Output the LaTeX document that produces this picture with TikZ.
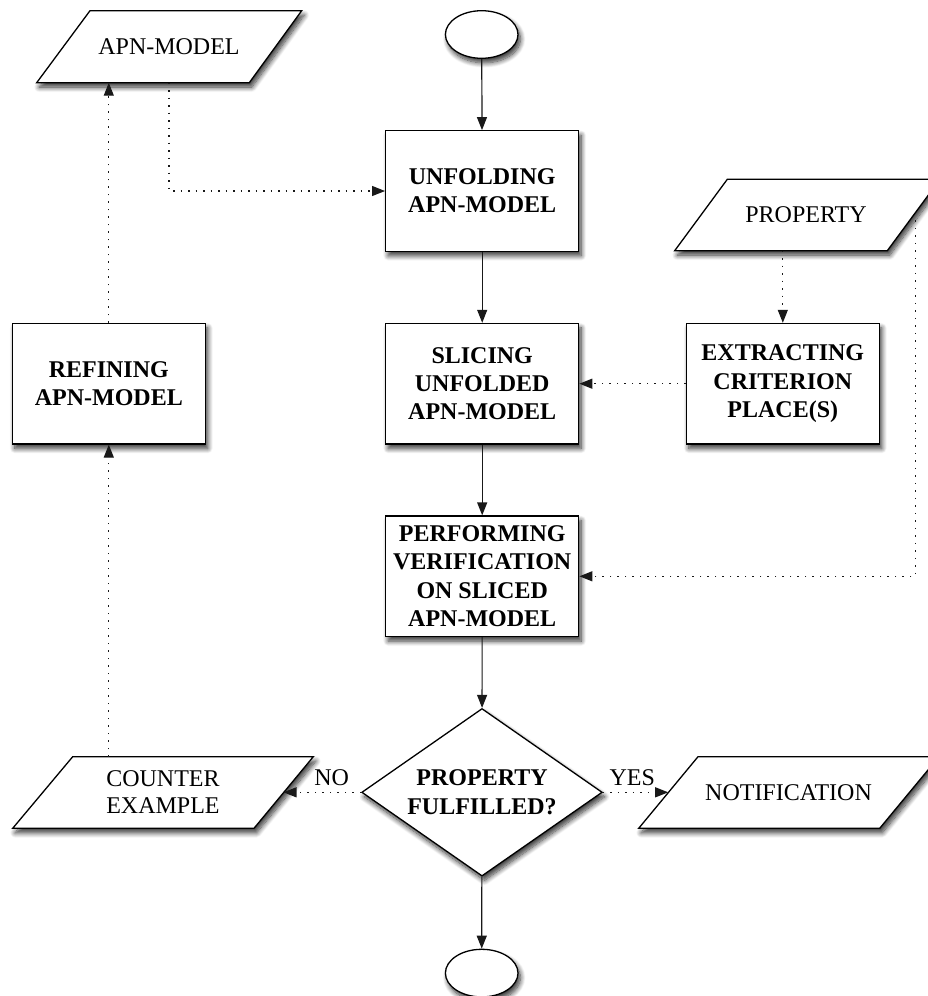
\documentclass[tikz,border=0pt]{standalone}
\usepackage{fontspec}
\setmainfont{Liberation Serif}
\usetikzlibrary{arrows.meta,shapes.geometric,shadows.blur}

\begin{document}
\begin{tikzpicture}[x=1pt,y=-1pt,
  softshadow/.style={blur shadow={shadow xshift=2.5pt,shadow yshift=-4.5pt,shadow blur radius=5pt,shadow blur steps=10,shadow opacity=80}},
  outline/.style={draw=black,line width=1.3pt,fill=white,softshadow},
  procbox/.style={outline,rectangle,minimum width=193pt,minimum height=120.5pt,inner sep=0pt,
    align=center,font=\fontsize{24}{28.3}\selectfont\bfseries},
  terminal/.style={outline,ellipse,minimum width=72.6pt,minimum height=47.6pt,inner sep=0pt},
  decision/.style={outline,diamond,aspect=1.435,minimum width=240.6pt,minimum height=167.6pt,inner sep=0pt,
    align=center,font=\fontsize{24}{28.3}\selectfont\bfseries},
  datashape/.style={outline,line join=miter},
  datatext/.style={align=center,inner sep=0pt,font=\fontsize{24}{27.4}\selectfont},
  edgelabel/.style={inner sep=0pt,font=\fontsize{24}{28}\selectfont},
  flow/.style={draw=black!90,line width=1.2pt,-{Triangle[length=13pt,width=10pt]}},
  dataflow/.style={flow,dash pattern=on 1.5pt off 6pt},
]
\path[use as bounding box,clip] (0,0) rectangle (928,996);

% data (input/output) shapes
\draw[datashape] (90,10.7) -- (301.7,10.7) -- (249.3,82.7) -- (36.7,82.7) -- cycle;
\node[datatext] (apn) at (169,46.7) {APN-MODEL};
\draw[datashape] (727.3,179.3) -- (940,179.3) -- (887.3,250.7) -- (674.7,250.7) -- cycle;
\node[datatext] (prop) at (806,215) {PROPERTY};
\draw[datashape] (72.7,756.7) -- (313.3,756.7) -- (254,828.3) -- (12.7,828.3) -- cycle;
\node[datatext] (counter) at (163,792.3) {COUNTER\\EXAMPLE};
\draw[datashape] (698,756.7) -- (939,756.7) -- (879.7,828.3) -- (638.7,828.3) -- cycle;
\node[datatext] (notify) at (788.5,792.3) {NOTIFICATION};

% connection points on the borders of the data shapes
\coordinate (apnout) at (169,82.7);
\coordinate (apnin) at (108.8,82.7);
\coordinate (propdown) at (782.8,250.7);
\coordinate (propside) at (915.3,212.8);
\coordinate (counterup) at (108.8,756.7);
\coordinate (counterin) at (283.5,792.3);
\coordinate (notifyin) at (668.2,792.3);

% process steps
\node[terminal] (start) at (481.7,34.5) {};
\node[procbox] (unfold) at (482.2,191) {UNFOLDING\\APN-MODEL};
\node[procbox] (slice) at (482.2,383.7) {SLICING\\UNFOLDED\\APN-MODEL};
\node[procbox] (verify) at (482.2,576.3) {PERFORMING\\VERIFICATION\\ON SLICED\\APN-MODEL};
\node[procbox] (refine) at (108.8,383.7) {REFINING\\APN-MODEL};
\node[procbox] (extract) at (782.8,383.7) {EXTRACTING\\CRITERION\\PLACE(S)};
\node[decision] (check) at (482,792.3) {PROPERTY\\FULFILLED?};
\node[terminal] (stop) at (481.7,973.1) {};

% main control flow
\draw[flow] (start) -- (unfold);
\draw[flow] (unfold) -- (slice);
\draw[flow] (slice) -- (verify);
\draw[flow] (verify) -- (check);
\draw[flow] (check) -- (stop);

% data flow
\draw[dataflow] (apnout) |- (unfold.west);
\draw[dataflow] (propdown) -- (extract.north);
\draw[dataflow] (extract.west) -- (slice.east);
\draw[dataflow] (propside) |- (verify.east);
\draw[dataflow] (check.west) -- (counterin);
\draw[dataflow] (check.east) -- (notifyin);
\draw[dataflow] (counterup) -- (refine.south);
\draw[dataflow] (refine.north) -- (apnin);

% branch labels
\node[edgelabel] (no) at (331.7,777.3) {NO};
\node[edgelabel] (yes) at (632.3,777.3) {YES};
\end{tikzpicture}
\end{document}
